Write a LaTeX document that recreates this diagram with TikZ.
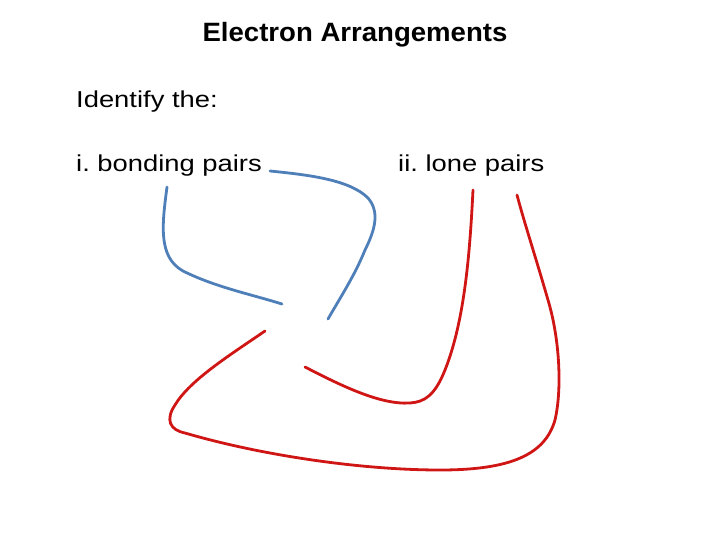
\documentclass[tikz,border=0pt]{standalone}
\usepackage{fontspec}
\setmainfont{Liberation Sans}
\frenchspacing
\definecolor{bpblue}{HTML}{4F7FB8}
\definecolor{lpred}{HTML}{D01515}
\tikzset{
  curveb/.style={draw=bpblue, line width=2.8pt, line cap=round},
  curver/.style={draw=lpred, line width=2.8pt, line cap=round},
  lbl/.style={anchor=base west, inner sep=0pt, font=\fontsize{23}{27}\selectfont}
}
\newcommand{\wide}[1]{\scalebox{1.19}[1.0]{#1}}
\begin{document}
\begin{tikzpicture}[x=1pt,y=-1pt]
\useasboundingbox (0,0) rectangle (720,540);
\node[anchor=base, inner sep=0pt, font=\fontsize{26.5}{30}\selectfont\bfseries] (title) at (355,41.5) {\scalebox{1.04}[1.0]{Electron Arrangements}};
\node[lbl] (identify) at (76,108) {\wide{Identify the:}};
\node[lbl] (bonding) at (76,172) {\wide{i. bonding pairs}};
\node[lbl] (lone) at (398,172) {\wide{ii. lone pairs}};
% bonding pair curves
\draw[curveb] (167,187) .. controls (162,225) and (158,257) .. (183,271) .. controls (215,287) and (250,294) .. (282,304);
\draw[curveb] (270,171) .. controls (310,175) and (350,180) .. (368,198) .. controls (380,212) and (375,230) .. (365,250) .. controls (355,275) and (340,298) .. (328,319);
% lone pair curves
\draw[curver] (265,331) .. controls (230,355) and (190,380) .. (175,405) .. controls (165,420) and (170,430) .. (185,433) .. controls (260,455) and (360,470) .. (440,470) .. controls (510,470) and (545,455) .. (555,420) .. controls (562,390) and (560,340) .. (548,300) .. controls (535,255) and (525,225) .. (517,195);
\draw[curver] (305,367) .. controls (340,385) and (380,405) .. (410,403) .. controls (425,402) and (435,395) .. (445,370) .. controls (465,320) and (470,250) .. (473,190);
\end{tikzpicture}
\end{document}
